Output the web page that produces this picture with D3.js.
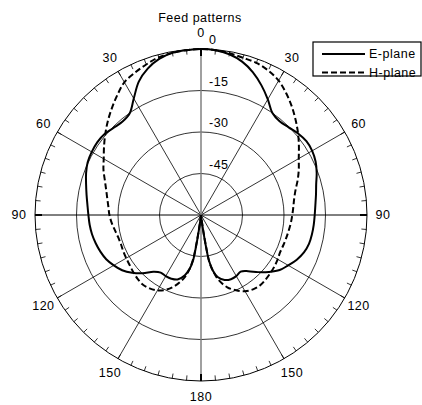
<!DOCTYPE html>
<html>
<head>
<meta charset="utf-8">
<script src="https://cdn.jsdelivr.net/npm/d3@7"></script>
<style>
  body { margin: 0; background: #fff; }
  text { font-family: "Liberation Sans", Arial, sans-serif; font-size: 12.5px; letter-spacing: 0.5px; fill: #000; }
</style>
</head>
<body>
<svg width="422" height="405"></svg>
<script>
// angles in degrees, 0 at top, positive to the right
const angles = [-180,-174,-173,-172,-171,-170,-168,-165,-160,-155,-150,-145,-140,-135,-130,-125,-120,-115,-110,-105,-100,-95,-90,-85,-80,-75,-70,-65,-60,-55,-50,-45,-40,-35,-30,-25,-20,-15,-10,-5,
  0,5,10,15,20,25,30,35,40,45,50,55,60,65,70,75,80,85,90,95,100,105,110,115,120,125,130,135,140,145,150,155,160,165,168,170,171,172,173,174,180];

const ePlane = [-60,-60,-58,-54,-48,-43,-40,-37.5,-35.2,-34.6,-34.5,-34.6,-33.2,-30.2,-27.5,-25.2,-23.6,-22.2,-21.3,-20.6,-20.0,-19.6,-19.3,-18.8,-18.0,-17.0,-15.8,-14.8,-14.4,-14.2,-14.5,-15.4,-15.9,-15.1,-11.4,-6.8,-3.7,-1.6,-0.5,-0.2,
  0,-0.2,-1.0,-2.6,-5.1,-8.3,-11.7,-15.0,-15.8,-15.2,-14.2,-13.5,-13.6,-14.3,-15.5,-16.9,-17.8,-18.5,-18.9,-19.1,-19.3,-19.6,-20.4,-21.8,-23.6,-25.3,-28.0,-30.8,-33.5,-35.0,-34.5,-34.4,-35.0,-36.8,-39.5,-43,-48,-54,-58,-60,-60];

const hPlane = [-60,-60,-59,-56,-50,-44,-40,-36.5,-32.8,-30.2,-28.5,-27.6,-27.2,-27.5,-28.0,-28.5,-28.8,-29.0,-29.2,-29.0,-28.4,-27.6,-26.9,-26.4,-25.6,-24.5,-23.0,-21.1,-19.4,-17.2,-14.8,-12.3,-9.8,-7.2,-4.6,-3.3,-2.1,-1.0,-0.5,-0.2,
  0,-0.2,-0.6,-1.2,-1.5,-2.4,-3.9,-6.3,-8.9,-11.6,-14.2,-16.8,-19.2,-21.0,-22.8,-24.6,-25.8,-26.5,-27.0,-27.4,-27.8,-28.1,-28.3,-28.4,-28.0,-27.6,-27.3,-27.0,-26.8,-27.2,-28.2,-30.0,-32.2,-35.8,-39.5,-43,-49,-55,-59,-60,-60];

const ringTicks = [0, -15, -30, -45];
const angleTicks = [0, 30, 60, 90, 120, 150, 180];
const seriesNames = ["E-plane", "H-plane"];

const svg = d3.select("svg");
const cx = 201, cy = 215, R = 166;
const g = svg.append("g").attr("transform", "translate(" + cx + "," + cy + ")");

const rScale = d3.scaleLinear().domain([-60, 0]).range([0, R]);
const rad = a => a * Math.PI / 180;

// title
svg.append("text").attr("x", 200).attr("y", 22).attr("text-anchor", "middle").text("Feed patterns");

// rings
g.selectAll("circle.ring")
  .data(ringTicks)
  .enter()
  .append("circle")
  .attr("r", d => rScale(d))
  .attr("fill", "none")
  .attr("stroke", "#000")
  .attr("stroke-width", d => d === 0 ? 1 : 0.8);

// spokes every 30 deg (full diameter)
[30, 60, 90, 120, 150].forEach(a => {
  const x = R * Math.sin(rad(a)), y = -R * Math.cos(rad(a));
  g.append("line")
    .attr("x1", -x).attr("y1", -y).attr("x2", x).attr("y2", y)
    .attr("stroke", "#000")
    .attr("stroke-width", a === 90 ? 1 : 0.8);
});
g.append("line").attr("x1", 0).attr("y1", -R).attr("x2", 0).attr("y2", R)
  .attr("stroke", "#808080").attr("stroke-width", 1.5);

// minor ticks every 5 deg on outer circle
d3.range(0, 360, 5).forEach(a => {
  const major = a % 90 === 0;
  const len = major ? 7 : 5;
  const s = Math.sin(rad(a)), c = -Math.cos(rad(a));
  g.append("line")
    .attr("x1", R * s).attr("y1", R * c)
    .attr("x2", (R - len) * s).attr("y2", (R - len) * c)
    .attr("stroke", "#000")
    .attr("stroke-width", major ? 2 : 0.8);
});

// angle labels, mirrored on both sides
const labelR = 182;
angleTicks.forEach(a => {
  const sides = (a === 0 || a === 180) ? [1] : [1, -1];
  sides.forEach(sgn => {
    g.append("text")
      .attr("x", sgn * labelR * Math.sin(rad(a)))
      .attr("y", -labelR * Math.cos(rad(a)))
      .attr("dy", "0.35em")
      .attr("text-anchor", "middle")
      .text(a);
  });
});

// radial labels
g.selectAll("text.rlab")
  .data(ringTicks)
  .enter()
  .append("text")
  .attr("x", 8)
  .attr("y", d => -rScale(d) - 9)
  .attr("dy", "0.35em")
  .text(d => d);

// pattern curves
const line = d3.lineRadial()
  .angle(d => rad(d[0]))
  .radius(d => rScale(d[1]))
  .curve(d3.curveCatmullRom.alpha(0.5));

const hData = angles.map((a, i) => [a, hPlane[i]]);
const eData = angles.map((a, i) => [a, ePlane[i]]);

g.append("path").attr("d", line(hData))
  .attr("fill", "none").attr("stroke", "#000").attr("stroke-width", 2)
  .attr("stroke-dasharray", "6,3");
g.append("path").attr("d", line(eData))
  .attr("fill", "none").attr("stroke", "#000").attr("stroke-width", 2);

// legend
const leg = svg.append("g").attr("transform", "translate(313,42)");
leg.append("rect").attr("width", 108).attr("height", 34)
  .attr("fill", "#fff").attr("stroke", "#000").attr("stroke-width", 1.2);
seriesNames.forEach((name, i) => {
  const y = 12 + i * 18.5;
  leg.append("line").attr("x1", 9).attr("x2", 52).attr("y1", y).attr("y2", y)
    .attr("stroke", "#000").attr("stroke-width", 2)
    .attr("stroke-dasharray", i === 1 ? "6,3" : null);
  leg.append("text").attr("x", 56).attr("y", y).attr("dy", "0.35em").text(name);
});
</script>
</body>
</html>
